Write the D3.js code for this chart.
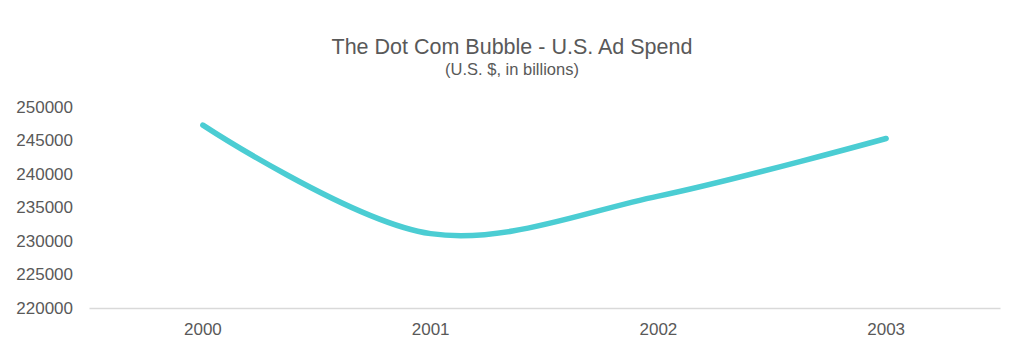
<!DOCTYPE html>
<html>
<head>
<meta charset="utf-8">
<script src="https://cdn.jsdelivr.net/npm/d3@7"></script>
<style>
  body { margin: 0; background: #fff; }
  text { font-family: "Liberation Sans", Arial, sans-serif; fill: #595959; }
</style>
</head>
<body>
<svg id="chart"></svg>
<script>
var years = ["2000", "2001", "2002", "2003"];
var adSpend = [247300, 231100, 236700, 245300];
var yTicks = [220000, 225000, 230000, 235000, 240000, 245000, 250000];

var width = 1024, height = 350;
var margin = { left: 89, right: 24, top: 107, bottom: 42 };

var svg = d3.select("#chart")
    .attr("width", width)
    .attr("height", height);

var x = d3.scaleBand()
    .domain(years)
    .range([margin.left, width - margin.right]);

var y = d3.scaleLinear()
    .domain([220000, 250000])
    .range([height - margin.bottom, margin.top]);

// title
svg.append("text")
    .attr("x", 512)
    .attr("y", 54)
    .attr("text-anchor", "middle")
    .style("font-size", "21.5px")
    .text("The Dot Com Bubble - U.S. Ad Spend");

svg.append("text")
    .attr("x", 512)
    .attr("y", 75)
    .attr("text-anchor", "middle")
    .style("font-size", "16.5px")
    .text("(U.S. $, in billions)");

// y axis labels
svg.append("g")
  .selectAll("text")
  .data(yTicks)
  .enter()
  .append("text")
    .attr("x", 73)
    .attr("y", d => y(d))
    .attr("dy", "0.35em")
    .attr("text-anchor", "end")
    .style("font-size", "17px")
    .text(d => d);

// x axis
var xAxis = svg.append("g")
    .attr("transform", `translate(0, ${y(220000)})`)
    .call(d3.axisBottom(x).tickSize(0).tickPadding(15));

xAxis.select(".domain")
    .attr("stroke", "#d9d9d9")
    .attr("stroke-width", 1.5);

xAxis.selectAll("text")
    .style("font-size", "17px")
    .attr("fill", "#595959");

// line
var line = d3.line()
    .x((d, i) => x(years[i]) + x.bandwidth() / 2)
    .y(d => y(d))
    .curve(d3.curveCatmullRom.alpha(0.5));

svg.append("path")
    .datum(adSpend)
    .attr("fill", "none")
    .attr("stroke", "#4bcdd3")
    .attr("stroke-width", 5.5)
    .attr("stroke-linecap", "round")
    .attr("d", line);
</script>
</body>
</html>
